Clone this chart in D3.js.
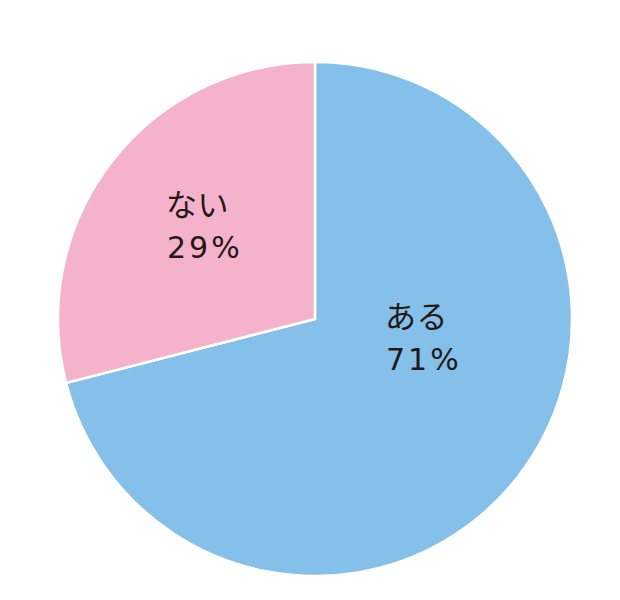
<!DOCTYPE html>
<html lang="ja">
<head>
<meta charset="UTF-8">
<title>Pie</title>
<script src="https://d3js.org/d3.v7.min.js"></script>
<style>
    body { margin: 0; background: #fff; }
    svg text { fill: #231815; }
    .name { font-family: "Noto Sans CJK JP", "Noto Sans", sans-serif; }
    .pct { font-family: "DejaVu Sans", "Noto Sans", sans-serif; }
</style>
</head>
<body>
<svg id="chart"></svg>
<script>
    const categories = ["ある", "ない"];
    const values = [71, 29];
    const colors = ["#84c0ea", "#f4b3cb"];

    const width = 620, height = 600;
    const cx = 315, cy = 319, radius = 257;

    const svg = d3.select("#chart").attr("width", width).attr("height", height);
    const g = svg.append("g").attr("transform", `translate(${cx},${cy})`);

    const pie = d3.pie().sort(null).value(d => d.value);
    const arc = d3.arc().innerRadius(0).outerRadius(radius);

    const data = categories.map((c, i) => ({ name: c, value: values[i], color: colors[i] }));
    const arcs = pie(data);

    g.selectAll("path")
        .data(arcs)
        .enter()
        .append("path")
        .attr("d", arc)
        .attr("fill", d => d.data.color)
        .attr("stroke", "#fff")
        .attr("stroke-width", 2.5)
        .attr("stroke-linejoin", "miter");

    // label anchors, relative to the pie centre (left aligned text)
    const offsets = { "ある": [70, 9], "ない": [-149, -103] };

    const labels = g.selectAll("g.label")
        .data(arcs)
        .enter()
        .append("g")
        .attr("class", "label")
        .attr("transform", d => `translate(${offsets[d.data.name][0]},${offsets[d.data.name][1]})`);

    labels.append("text")
        .attr("class", "name")
        .attr("font-size", 31)
        .attr("letter-spacing", 0.5)
        .text(d => d.data.name);

    labels.append("text")
        .attr("class", "pct")
        .attr("x", 1)
        .attr("y", 42)
        .attr("font-size", 30)
        .attr("letter-spacing", 3)
        .text(d => d.data.value + "%");
</script>
</body>
</html>
